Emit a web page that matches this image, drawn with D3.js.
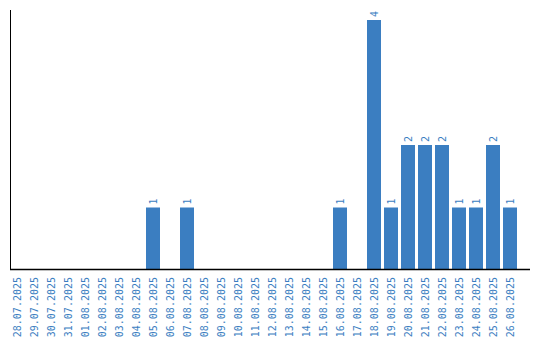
<!DOCTYPE html>
<html><head><meta charset="utf-8">
<script src="https://cdn.jsdelivr.net/npm/d3@7"></script>
<style>body{margin:0;background:#fff}svg{display:block}</style>
</head><body>
<svg id="c" width="540" height="340"></svg>
<script>
const dates = ["28.07.2025","29.07.2025","30.07.2025","31.07.2025","01.08.2025","02.08.2025","03.08.2025","04.08.2025","05.08.2025","06.08.2025","07.08.2025","08.08.2025","09.08.2025","10.08.2025","11.08.2025","12.08.2025","13.08.2025","14.08.2025","15.08.2025","16.08.2025","17.08.2025","18.08.2025","19.08.2025","20.08.2025","21.08.2025","22.08.2025","23.08.2025","24.08.2025","25.08.2025","26.08.2025"];
const counts = [0,0,0,0,0,0,0,0,1,0,1,0,0,0,0,0,0,0,0,1,0,4,1,2,2,2,1,1,2,1];

const blue = "#3b7ec1";
const font = "'DejaVu Sans Mono', monospace";
const svg = d3.select("#c");
const pi = 3/17;
const x = d3.scaleBand().domain(dates).range([8.5, 518.5]).paddingInner(pi).paddingOuter(pi/2);
const y = d3.scaleLinear().domain([0, 4.16]).range([270, 10]);

const data = dates.map((d,i)=>({d, v: counts[i]}));

svg.selectAll("rect.bar").data(data.filter(e=>e.v>0)).join("rect")
  .attr("class","bar")
  .attr("x", e=>x(e.d)).attr("width", x.bandwidth())
  .attr("y", e=>y(e.v)).attr("height", e=>y(0)-y(e.v))
  .attr("fill", blue);

svg.selectAll("text.val").data(data.filter(e=>e.v>0)).join("text")
  .attr("class","val")
  .attr("transform", e=>`translate(${x(e.d)+x.bandwidth()/2},${y(e.v)-3}) rotate(-90)`)
  .attr("dy","0.35em")
  .attr("font-family", font).attr("font-size", 10)
  .attr("fill", blue)
  .text(e=>e.v);

// axes
const xAxis = d3.axisBottom(x).tickSize(0).tickPadding(0);
const gx = svg.append("g").attr("transform","translate(0,270)").call(xAxis);
gx.select(".domain").remove();
gx.selectAll("text")
  .attr("font-family", font).attr("font-size", 10).attr("fill", blue)
  .attr("text-anchor","end")
  .attr("transform","rotate(-90)")
  .attr("x", -7).attr("y", 0).attr("dy","0.35em");

svg.append("line").attr("x1",10.5).attr("x2",10.5).attr("y1",10).attr("y2",270)
  .attr("stroke","#000").attr("stroke-width",1);
svg.append("line").attr("x1",10).attr("x2",530).attr("y1",269.5).attr("y2",269.5)
  .attr("stroke","#000").attr("stroke-width",1.5);
</script>
</body></html>
